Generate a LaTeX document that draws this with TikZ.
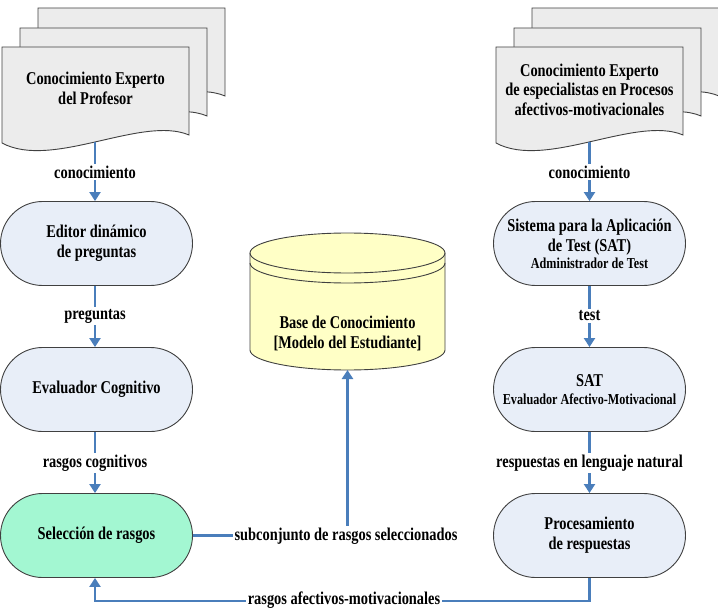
\documentclass[tikz,border=0pt]{standalone}
\usepackage{fontspec}
\setmainfont[FakeStretch=0.8]{Liberation Serif}
\usetikzlibrary{arrows.meta}
\definecolor{arrowblue}{HTML}{4A7EBB}
\definecolor{boxfill}{HTML}{E8EEF8}
\definecolor{selfill}{HTML}{A3F7D2}
\definecolor{docfill}{HTML}{ECECEC}
\definecolor{dbfill}{HTML}{FFFFC6}
\definecolor{edge}{HTML}{404040}
\newcommand\mainsz{\fontsize{18}{20}\selectfont\bfseries}
\newcommand\smallsz{\fontsize{15.2}{15}\selectfont\bfseries}
\begin{document}
\begin{tikzpicture}[x=1pt,y=-1pt,
  box/.style={draw=edge, line width=0.9pt, fill=boxfill, rounded corners=42pt,
    minimum width=192pt, minimum height=84pt, align=center, font=\mainsz, inner sep=0pt},
  selbox/.style={box, fill=selfill},
  doctext/.style={align=center, font=\mainsz, inner sep=0pt},
  lbl/.style={fill=white, font=\mainsz, inner sep=2pt},
  conn/.style={draw=arrowblue, line width=2.6pt, -{Triangle[length=9pt,width=11pt]}},
  docshape/.pic={\draw[draw=edge, line width=0.9pt, fill=docfill]
     (0,0) -- (187,0) -- (187,88) .. controls (140,68) and (50,123) .. (0,96) -- cycle;}
]
\useasboundingbox (0,0) rectangle (718,615);

% left document stack
\pic at (38,8) {docshape};
\pic at (20,28) {docshape};
\pic at (2,47) {docshape};
\node[doctext] (doc1) at (95.5,88.5) {Conocimiento Experto\\del Profesor};
\coordinate (d1b) at (95,142);

% right document stack
\pic at (532,8) {docshape};
\pic at (514,28) {docshape};
\pic at (496,47) {docshape};
\node[doctext, font=\fontsize{18}{19.5}\selectfont\bfseries] (doc2) at (589.5,89.5)
  {Conocimiento Experto\\de especialistas en Procesos\\afectivos-motivacionales};
\coordinate (d2b) at (589.5,142);

% database
\draw[draw=edge, line width=0.9pt, fill=dbfill]
  (250,253) -- (250,350) arc[start angle=180, end angle=0, x radius=97.5, y radius=20]
  -- (445,253) arc[start angle=0, end angle=-180, x radius=97.5, y radius=20] -- cycle;
\draw[draw=edge, line width=0.9pt] (250,253) arc[start angle=180, end angle=0, x radius=97.5, y radius=20];
\draw[draw=edge, line width=0.9pt] (250,263) arc[start angle=180, end angle=0, x radius=97.5, y radius=20];
\node[doctext] (db) at (347.5,333) {Base de Conocimiento\\{[Modelo del Estudiante]}};
\coordinate (dbb) at (347.5,370);

% left column boxes
\node[box] (editor) at (96.5,243.5) {Editor dinámico\\de preguntas};
\node[box] (evalc) at (96.5,389.5) {Evaluador Cognitivo};
\node[selbox] (sel) at (96.5,535.5) {Selección de rasgos};

% right column boxes
\node[box] (sat1) at (589.5,243.5) {Sistema para la Aplicación\\de Test (SAT)\\[-3pt]{\smallsz Administrador de Test}};
\node[box] (sat2) at (589.5,389.5) {SAT\\[-2pt]{\smallsz Evaluador Afectivo-Motivacional}};
\node[box] (proc) at (589.5,535.5) {Procesamiento\\de respuestas};

% connectors
\draw[conn] (d1b) -- (d1b |- editor.north);
\node[lbl] (l1) at (95,172) {conocimiento};
\draw[conn] (editor.south -| d1b) -- (evalc.north -| d1b);
\node[lbl] (l2) at (95,316) {preguntas};
\draw[conn] (evalc.south -| d1b) -- (sel.north -| d1b);
\node[lbl] (l3) at (95,463) {rasgos cognitivos};

\draw[conn] (d2b) -- (sat1.north);
\node[lbl] (r1) at (589.5,172) {conocimiento};
\draw[conn] (sat1.south) -- (sat2.north);
\node[lbl] (r2) at (589.5,316) {test};
\draw[conn] (sat2.south) -- (proc.north);
\node[lbl] (r3) at (589.5,463) {respuestas en lenguaje natural};

\draw[conn] (sel.east) -- (dbb |- sel.east) -- (dbb);
\node[lbl] (sub) at (346,536) {subconjunto de rasgos seleccionados};

\draw[conn] (proc.south) -- ++(0,23) -| (sel.south -| d1b);
\node[lbl] (afe) at (344,600) {rasgos afectivos-motivacionales};
\end{tikzpicture}
\end{document}
